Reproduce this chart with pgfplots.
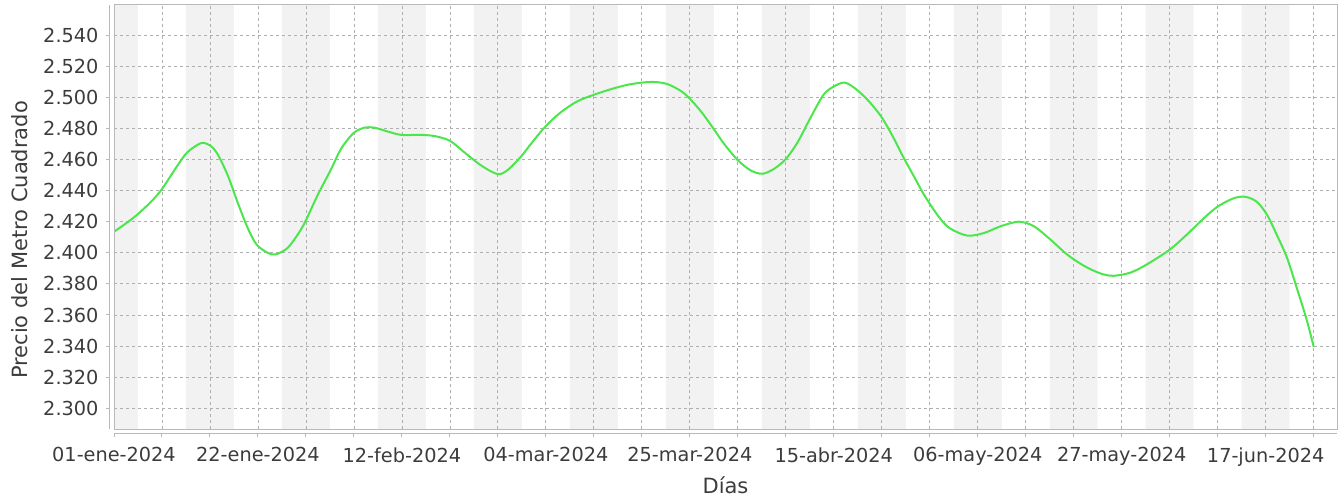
\documentclass[border=0pt]{standalone}
\usepackage{fontspec}
\setmainfont{DejaVu Sans}
\usepackage{pgfplots}
\pgfplotsset{compat=1.18}

\definecolor{bandgray}{RGB}{242,242,242}
\definecolor{gridgray}{RGB}{175,175,175}
\definecolor{boxgray}{RGB}{185,185,185}
\definecolor{txtgray}{RGB}{60,60,60}
\definecolor{linegreen}{RGB}{75,230,75}

\begin{document}
\begin{tikzpicture}
\begin{axis}[
    set layers, clip mode=individual,
    scale only axis, width=1223bp, height=424bp,
    at={(0,0)}, anchor=south west,
    xmin=0, xmax=178.4, ymin=2286.7, ymax=2559.3,
    axis lines=left, axis line style={-, draw=boxgray, line width=1bp},
    axis x line shift=4bp, axis y line shift=4bp,
    tick align=outside, major tick length=4bp, minor tick length=4bp,
    tick style={boxgray, line width=1bp},
    xtick={0,21,...,168}, minor xtick={7,14,...,175},
    xticklabels={01-ene-2024,22-ene-2024,12-feb-2024,04-mar-2024,25-mar-2024,15-abr-2024,06-may-2024,27-may-2024,17-jun-2024},
    ytick={2300,2320,...,2540},
    yticklabels={2.300,2.320,2.340,2.360,2.380,2.400,2.420,2.440,2.460,2.480,2.500,2.520,2.540},
    grid=both,
    major grid style={gridgray, line width=0.8bp, dash pattern=on 3bp off 3bp},
    minor grid style={gridgray, line width=0.8bp, dash pattern=on 3bp off 3bp},
    ticklabel style={font=\fontsize{19.3bp}{22bp}\selectfont, text=txtgray},
    xticklabel style={yshift=-7bp},
    yticklabel style={xshift=-4bp},
    xlabel={Días}, ylabel={Precio del Metro Cuadrado},
    label style={font=\fontsize{21bp}{24bp}\selectfont, text=txtgray},
    xlabel style={at={(axis description cs:0.5,0)}, anchor=base, yshift=-64bp},
    ylabel style={at={(axis description cs:-0.07114,0.4458)}, anchor=base},
]
% bandas semanales alternas
\addplot[on layer=axis background, ybar interval, fill=bandgray, draw=none] coordinates {
    (-3.5,3000) (3.5,0) (10.5,3000) (17.5,0) (24.5,3000) (31.5,0)
    (38.5,3000) (45.5,0) (52.5,3000) (59.5,0) (66.5,3000) (73.5,0)
    (80.5,3000) (87.5,0) (94.5,3000) (101.5,0) (108.5,3000) (115.5,0)
    (122.5,3000) (129.5,0) (136.5,3000) (143.5,0) (150.5,3000) (157.5,0)
    (164.5,3000) (171.5,0) (178.5,0)
};
% precio (dia desde 01-ene-2024, valor)
\addplot[linegreen, line width=2bp, smooth] table {
x y
0 2413.5
2.9 2422.7
5.4 2432.8
7 2441
9.25 2456
10.7 2464.6
12.7 2470.5
14 2469
15.1 2463.5
16.6 2449.7
18 2432.8
19.5 2416
20.8 2405.3
22.4 2400
23.6 2399
25.3 2403
26.8 2411.7
27.9 2420
29.7 2437
31.7 2454
33.1 2466.7
34.9 2476.8
36.5 2480.4
38 2480.4
39.9 2478
41.9 2475.8
44.8 2475.8
46.8 2475
49 2472
51.1 2464.6
53.6 2456
56 2450.5
57.5 2453.5
59.4 2462
61 2471
63 2481.5
65.2 2490.4
67.6 2497.4
70 2501.6
72.5 2505.2
74.9 2508
77 2509.4
78.8 2509.8
80.7 2508.5
82.7 2504
84 2499
85.6 2491
87.1 2482
89 2470
91 2459.5
92.9 2452.9
94.6 2450.8
96.3 2454
98 2460.3
99.7 2470.9
101.6 2486.8
103.5 2501.6
105 2506.9
106.6 2509.4
108.3 2505
110.2 2497
112 2487
113.7 2474
115.2 2461
116.7 2449
118 2438.5
119.3 2429.5
120.6 2421.5
122 2415.5
124.5 2411
126.9 2412.7
129.3 2417
132 2420
134.2 2417
136.6 2408.5
139 2399
141.5 2391.6
143.9 2386.7
145.8 2385.2
148.3 2387.3
150.7 2392.6
154 2402
156.5 2411.7
159 2422.3
161 2429.7
163.3 2435
165 2436
166.7 2432.8
168.2 2424.4
169.6 2411.7
171.1 2396.9
172.5 2377.9
174 2356.6
175 2339.5
};
\end{axis}
\draw[boxgray, line width=1bp] (0,0) rectangle (1223bp,424bp);
\path (-114bp,-71bp) rectangle (1227bp,429bp);
\end{tikzpicture}
\end{document}
